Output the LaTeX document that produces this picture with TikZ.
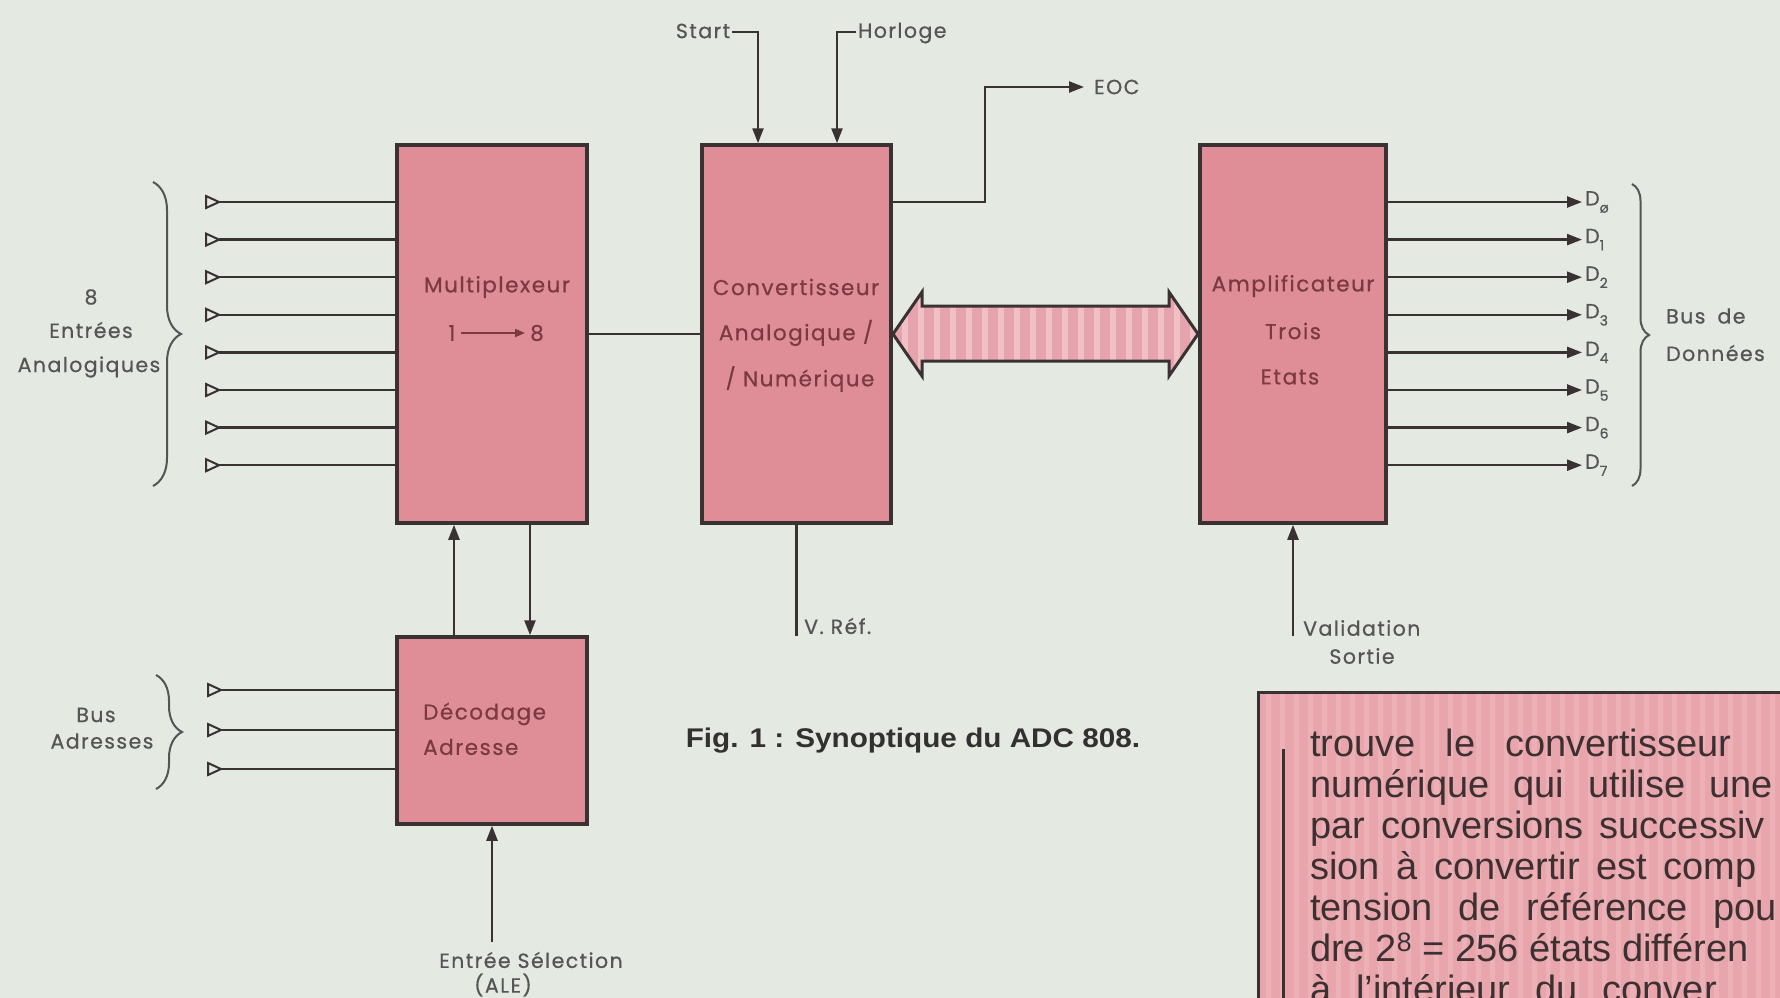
\documentclass[tikz,border=0pt]{standalone}
\usepackage{graphicx}
\usepackage{fontspec}
\setmainfont{Liberation Sans}
\newfontfamily\labfont[LetterSpace=7,FakeBold=0.6]{Poppins}
\usetikzlibrary{arrows.meta,decorations.pathreplacing,calc}
\definecolor{bgc}{HTML}{E4E9E2}
\definecolor{boxc}{HTML}{DF8E98}
\definecolor{linec}{HTML}{3A3232}
\definecolor{intext}{HTML}{7A3A40}
\definecolor{outtext}{HTML}{555555}
\definecolor{panelc}{HTML}{E8A6AC}
\definecolor{stripec}{HTML}{F0C0C4}
\definecolor{bodyc}{HTML}{3E3032}
\definecolor{capc}{HTML}{333030}
\newcommand\dsub[1]{\raisebox{-0.35em}{\fontsize{14}{14}\selectfont #1}}
\begin{document}
\begin{tikzpicture}[x=1pt,y=-1pt,
 blk/.style={draw=linec,fill=boxc,line width=3.5pt,inner sep=0pt},
 wire/.style={draw=linec,line width=2.4pt},
 arr/.style={wire,-{Triangle[length=15pt,width=11pt]}},
 inlab/.style={font=\labfont\fontsize{21.5}{25}\selectfont,text=intext,inner sep=0pt},
 outlab/.style={font=\labfont\fontsize{20.5}{24}\selectfont,text=outtext,inner sep=2pt},
 brc/.style={draw=outtext,line width=2pt,decorate,decoration={brace,amplitude=#1}},
 body/.style={font=\fontsize{38}{41}\selectfont,text=bodyc,inner sep=0pt,anchor=base west},
 opentri/.style={draw=linec,line width=2pt,fill=bgc,line join=miter}
]
\useasboundingbox (0,0) rectangle (1780,998);
\begin{scope}
\clip (0,0) rectangle (1780,998);
\fill[bgc] (0,0) rectangle (1780,998);

% blocks
\node[blk,minimum width=190pt,minimum height=378pt] (mux) at (492,334) {};
\node[blk,minimum width=189pt,minimum height=378pt] (conv) at (796.5,334) {};
\node[blk,minimum width=186pt,minimum height=378pt] (amp) at (1293,334) {};
\node[blk,minimum width=190pt,minimum height=187pt] (dec) at (492,730.5) {};

% block texts
\node[inlab] (muxa) at (497,287) {Multiplexeur};
\node[inlab] (mux1) at (452,333) {1};
\node[inlab] (mux8) at (537,333) {8};
\draw[draw=intext,line width=1.8pt,-{Triangle[length=10pt,width=8pt]}] ([xshift=5pt]mux1.east) -- ([xshift=-5pt]mux8.west);
\node[inlab] (conva) at (796,287) {Convertisseur};
\node[inlab] (convb) at (796,333) {Analogique /};
\node[inlab] (convc) at (800,379) {/ Numérique};
\node[inlab] (ampa) at (1293,286) {Amplificateur};
\node[inlab] (ampb) at (1293,331) {Trois};
\node[inlab] (ampc) at (1290,377) {Etats};
\node[inlab,anchor=west] (deca) at (423,714) {Décodage};
\node[inlab,anchor=west] (decb) at (423,747) {Adresse};

% analog inputs
\foreach \k in {0,...,7} {
  \pgfmathsetmacro\yy{202+37.6*\k}
  \coordinate (in\k) at (219,\yy);
  \draw[opentri] (206,\yy-6) -- (219,\yy) -- (206,\yy+6) -- cycle;
  \draw[wire] (in\k) -- (in\k -| mux.west);
}
\draw[brc=28] (153,182) -- (153,486);
\node[outlab] (ea1) at (91,297) {8};
\node[outlab] (ea2) at (91,330) {Entrées};
\node[outlab] (ea3) at (89,367) {Analogiques};

% mux -> conv
\draw[wire] (mux.east) -- (conv.west);

% start / horloge
\node[outlab] (start) at (703,31) {Start};
\coordinate (stc) at (758,32);
\draw[arr] (start.east |- stc) -- (stc) -- (stc |- conv.north);
\node[outlab,anchor=west] (horl) at (856,33) {Horloge};
\coordinate (hoc) at (837,32);
\draw[arr] (horl.west |- hoc) -- (hoc) -- (hoc |- conv.north);

% EOC
\coordinate (eoc) at (1084,87);
\draw[arr] ([yshift=132pt]conv.east) -| ([xshift=-99pt]eoc) -- (eoc);
\node[outlab,anchor=west] (eoct) at (1092,87) {EOC};

% V. Ref
\coordinate (vrc) at (796.5,636);
\draw[wire] (conv.south) -- (vrc);
\node[outlab,anchor=west] (vref) at (802,626) {V. Réf.};

% double arrow
\begin{scope}
\clip (893,334) -- (922,292) -- (922,306) -- (1169,306) -- (1169,292) -- (1198,334) -- (1169,376) -- (1169,361) -- (922,361) -- (922,376) -- cycle;
\fill[boxc!80!white] (880,280) rectangle (1210,390);
\foreach \xx in {902,918,...,1196} \fill[stripec] (\xx,280) rectangle (\xx+6,390);
\end{scope}
\draw[linec,line width=3pt,line join=miter] (893,334) -- (922,292) -- (922,306) -- (1169,306) -- (1169,292) -- (1198,334) -- (1169,376) -- (1169,361) -- (922,361) -- (922,376) -- cycle;

% data outputs
\foreach \k/\s in {0/ø,1/1,2/2,3/3,4/4,5/5,6/6,7/7} {
  \pgfmathsetmacro\yy{202+37.6*\k}
  \coordinate (o\k) at (1582,\yy);
  \draw[arr] (amp.east |- o\k) -- (o\k);
  \node[outlab,anchor=west] (d\k) at (1583,\yy) {D\dsub{\s}};
}
\draw[brc=17] (1632,184) -- (1632,486);
\node[outlab,anchor=west] (bd1) at (1664,316) {Bus\hspace{12pt}de};
\node[outlab,anchor=west] (bd2) at (1664,353) {Données};

% validation
\coordinate (valc) at (1293,636);
\draw[arr] (valc) -- (amp.south);
\node[outlab,anchor=west] (vala) at (1301,628) {Validation};
\node[outlab] (valb) at (1362,656) {Sortie};

% mux <-> decodage
\draw[arr] ([xshift=-38pt]dec.north) -- ([xshift=-38pt]mux.south);
\draw[arr] ([xshift=38pt]mux.south) -- ([xshift=38pt]dec.north);

% address bus
\foreach \k/\yy in {0/690,1/730,2/769} {
  \coordinate (ba\k) at (221,\yy);
  \draw[opentri] (208,\yy-6) -- (221,\yy) -- (208,\yy+6) -- cycle;
  \draw[wire] (ba\k) -- (ba\k -| dec.west);
}
\draw[brc=26] (156,675) -- (156,789);
\node[outlab] (bua) at (96,715) {Bus};
\node[outlab] (bub) at (102,741) {Adresses};

% ALE
\coordinate (alec) at (492,942);
\draw[arr] (alec) -- (dec.south);
\node[outlab] (alea) at (531,960) {Entrée Sélection};
\node[outlab] (aleb) at (503,985) {(ALE)};

% caption
\node[font=\bfseries\fontsize{27}{30}\selectfont,text=capc,inner sep=0pt] (cap) at (913,741) {\scalebox{1.1}[1]{Fig. 1 : Synoptique du ADC 808.}};

% text panel
\fill[panelc] (1258,692) rectangle (1800,1010);
\foreach \xx in {1266,1280,...,1790} \fill[stripec,opacity=0.45] (\xx,694) rectangle (\xx+5,1010);
\draw[linec,line width=3pt] (1800,692) -- (1258,692) -- (1258,1010);
\draw[linec,line width=3pt] (1283,749) -- (1283,1005);
\node[body] (t1) at (1310,756) {\spaceskip=30pt\relax trouve le convertisseur};
\node[body] (t2) at (1310,797) {\spaceskip=24pt\relax numérique qui utilise une};
\node[body] (t3) at (1310,838) {\spaceskip=16pt\relax par conversions successiv};
\node[body] (t4) at (1310,879) {\spaceskip=16.5pt\relax sion à convertir est comp};
\node[body] (t5) at (1310,920) {\spaceskip=26pt\relax tension de référence pou};
\node[body] (t6) at (1310,961) {dre 2\textsuperscript{8} = 256 états différen};
\node[body] (t7) at (1310,1002) {\spaceskip=25pt\relax à l'intérieur du conver};
\end{scope}
\end{tikzpicture}
\end{document}
